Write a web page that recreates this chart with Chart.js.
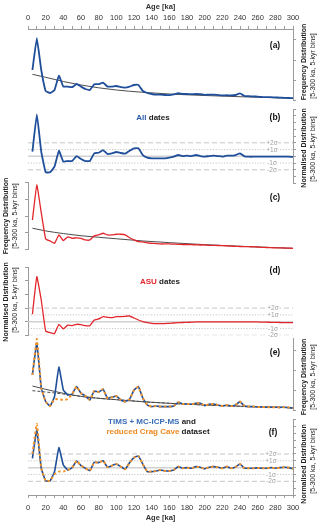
<!DOCTYPE html>
<html lang="en">
<head>
<meta charset="UTF-8">
<title>Age distribution of dates</title>
<script src="https://cdn.jsdelivr.net/npm/chart.js"></script>
<style>
  body { margin: 0; background: #fff; font-family: 'Liberation Sans', Arial, sans-serif; }
  #fig { position: relative; width: 320px; height: 527px; overflow: hidden; background: #fff; }
  #fig canvas { position: absolute; left: 0; }
  .lbl { position: absolute; transform: translate(-50%, -50%); white-space: nowrap; line-height: 1; }
  .rot { transform: translate(-50%, -50%) rotate(-90deg); font-size: 7px; color: #222; }
  .rot.b { font-weight: bold; }
  .pl { font-size: 8.5px; font-weight: bold; color: #111; }
  .sg { font-size: 6.5px; color: #a0a0a0; background: #fff; padding: 0 1px; }
  .ttl { font-size: 8px; font-weight: bold; color: #222; }
</style>
</head>
<body>
<div id="fig">
  <canvas id="pa" width="320" height="102" style="top:0px"></canvas>
  <canvas id="pb" width="320" height="81" style="top:105px"></canvas>
  <canvas id="pc" width="320" height="75" style="top:178px"></canvas>
  <canvas id="pd" width="320" height="76" style="top:262px"></canvas>
  <canvas id="pe" width="320" height="79" style="top:334px"></canvas>
  <canvas id="pf" width="320" height="112" style="top:415px"></canvas>

  <!-- panel letters -->
  <div class="lbl pl" style="left:275px;top:45px">(a)</div>
  <div class="lbl pl" style="left:275px;top:117px">(b)</div>
  <div class="lbl pl" style="left:275px;top:197px">(c)</div>
  <div class="lbl pl" style="left:275px;top:270px">(d)</div>
  <div class="lbl pl" style="left:275px;top:352px">(e)</div>
  <div class="lbl pl" style="left:273px;top:432px">(f)</div>

  <!-- panel titles -->
  <div class="lbl ttl" style="left:153px;top:118px"><span style="color:#2b5aa8">All</span> dates</div>
  <div class="lbl ttl" style="left:160px;top:282px"><span style="color:#e0262b">ASU</span> dates</div>
  <div class="lbl ttl" style="left:152px;top:422px"><span style="color:#3a6db5">TIMS + MC-ICP-MS</span> and</div>
  <div class="lbl ttl" style="left:158px;top:432px"><span style="color:#f08a24">reduced Crag Cave</span> dataset</div>

  <!-- sigma labels -->
  <div class="lbl sg" style="left:272px;top:142.8px">+2σ</div>
  <div class="lbl sg" style="left:272px;top:149.5px">+1σ</div>
  <div class="lbl sg" style="left:272px;top:163px">-1σ</div>
  <div class="lbl sg" style="left:272px;top:169.8px">-2σ</div>
  <div class="lbl sg" style="left:273px;top:308.1px">+2σ</div>
  <div class="lbl sg" style="left:273px;top:314.9px">+1σ</div>
  <div class="lbl sg" style="left:273px;top:328.5px">-1σ</div>
  <div class="lbl sg" style="left:273px;top:335.3px">-2σ</div>
  <div class="lbl sg" style="left:271px;top:454px">+2σ</div>
  <div class="lbl sg" style="left:271px;top:460.8px">+1σ</div>
  <div class="lbl sg" style="left:271px;top:474.5px">-1σ</div>
  <div class="lbl sg" style="left:271px;top:481.4px">-2σ</div>

  <!-- y axis titles -->
  <div class="lbl rot b" style="left:303px;top:62px">Frequency Distribution</div>
  <div class="lbl rot" style="left:312px;top:66px">[5-300 ka, 5-kyr bins]</div>
  <div class="lbl rot b" style="left:303px;top:148px">Normalised Distribution</div>
  <div class="lbl rot" style="left:312px;top:149px">[5-300 ka, 5-kyr bins]</div>
  <div class="lbl rot b" style="left:5px;top:216px">Frequency Distribution</div>
  <div class="lbl rot" style="left:13.5px;top:216px">[5-300 ka, 5-kyr bins]</div>
  <div class="lbl rot b" style="left:5px;top:302px">Normalised Distribution</div>
  <div class="lbl rot" style="left:13.5px;top:300px">[5-300 ka, 5-kyr bins]</div>
  <div class="lbl rot b" style="left:303px;top:377px">Frequency Distribution</div>
  <div class="lbl rot" style="left:312px;top:377px">[5-300 ka, 5-kyr bins]</div>
  <div class="lbl rot b" style="left:303px;top:464px">Normalised Distribution</div>
  <div class="lbl rot" style="left:312px;top:461px">[5-300 ka, 5-kyr bins]</div>
</div>

<script>
// bin centres (ka)
const ages = [5, 10, 15, 20, 25, 30, 35, 40, 45, 50, 55, 60, 65, 70, 75, 80, 85, 90, 95, 100,
              105, 110, 115, 120, 125, 130, 135, 140, 145, 150, 155, 160, 165, 170, 175, 180, 185, 190, 195, 200,
              205, 210, 215, 220, 225, 230, 235, 240, 245, 250, 255, 260, 265, 270, 275, 280, 285, 290, 295, 300];
const ageTicks = [0, 10, 20, 30, 40, 50, 60, 70, 80, 90, 100, 110, 120, 130, 140, 150, 160, 170, 180, 190, 200,
                  210, 220, 230, 240, 250, 260, 270, 280, 290, 300];
const ageRange = [0, 300];

// (a) all dates, frequency
const freqAll = [1.50, 3.09, 1.50, 0.45, 0.35, 0.50, 1.22, 0.67, 0.67, 0.64, 0.80, 0.67, 0.55, 0.50, 0.79, 0.79, 0.87, 0.67, 0.67, 0.70,
                 0.64, 0.62, 0.67, 0.75, 0.75, 0.45, 0.35, 0.30, 0.27, 0.27, 0.25, 0.24, 0.28, 0.34, 0.30, 0.30, 0.29, 0.30, 0.29, 0.26,
                 0.27, 0.27, 0.25, 0.23, 0.24, 0.23, 0.25, 0.33, 0.20, 0.19, 0.18, 0.17, 0.15, 0.14, 0.14, 0.13, 0.12, 0.11, 0.10, 0.09];
// (b) all dates, normalised (sigma units)
const normAll = [0.68, 6.22, 0.68, -2.37, -2.37, -1.54, 0.83, -0.80, -0.70, -0.70, 0.04, -0.40, -0.70, -0.70, 0.44, 0.53, 0.93, 0.34, 0.44, 0.64,
                 0.49, 0.39, 0.83, 1.19, 1.19, 0.19, -0.21, -0.30, -0.30, -0.30, -0.30, -0.21, -0.06, 0.19, 0.04, 0.09, 0.04, 0.19, 0.04, -0.06,
                 0.04, 0.09, 0.04, -0.06, 0.09, 0.09, 0.19, 0.44, 0.00, -0.06, -0.06, -0.04, -0.06, -0.06, -0.04, -0.06, -0.06, -0.04, -0.06, -0.10];
// (c) ASU dates, frequency
const freqAsu = [1.76, 3.85, 2.20, 0.63, 0.51, 0.37, 0.87, 0.53, 0.76, 0.67, 0.70, 0.67, 0.57, 0.57, 0.81, 0.87, 0.97, 0.87, 0.87, 0.91,
                 0.91, 0.87, 0.70, 0.57, 0.47, 0.45, 0.39, 0.37, 0.35, 0.33, 0.33, 0.33, 0.32, 0.31, 0.30, 0.30, 0.29, 0.28, 0.27, 0.27,
                 0.25, 0.25, 0.24, 0.23, 0.22, 0.20, 0.19, 0.18, 0.17, 0.17, 0.16, 0.15, 0.13, 0.12, 0.11, 0.10, 0.10, 0.09, 0.08, 0.07];
// (d) ASU dates, normalised
const normAsu = [1.09, 6.62, 3.19, -1.37, -1.62, -1.76, -0.38, -1.07, -0.49, -0.59, -0.38, -0.44, -0.59, -0.59, 0.25, 0.40, 0.74, 0.65, 0.59, 0.74,
                 0.74, 0.79, 0.84, 0.54, 0.25, 0.00, -0.15, -0.24, -0.29, -0.29, -0.28, -0.24, -0.19, -0.15, -0.12, -0.09, -0.07, -0.04, -0.03, -0.03,
                 -0.03, -0.03, -0.03, -0.03, -0.04, -0.04, -0.04, -0.04, -0.04, -0.04, -0.04, -0.04, -0.06, -0.07, -0.09, -0.10, -0.12, -0.13, -0.14, -0.15];
// (e) TIMS + MC-ICP-MS (blue) and reduced Crag Cave (orange), frequency
const freqTims = [1.75, 3.34, 1.10, 0.42, 0.20, 0.67, 2.14, 1.00, 0.75, 0.80, 1.17, 0.84, 0.70, 0.50, 0.95, 0.90, 1.04, 0.59, 0.64, 0.70,
                  0.50, 0.42, 0.54, 1.00, 1.17, 0.59, 0.25, 0.17, 0.20, 0.17, 0.17, 0.17, 0.20, 0.39, 0.30, 0.30, 0.29, 0.34, 0.34, 0.22,
                  0.29, 0.30, 0.25, 0.20, 0.25, 0.20, 0.25, 0.42, 0.20, 0.17, 0.17, 0.15, 0.15, 0.14, 0.14, 0.14, 0.13, 0.14, 0.12, 0.09];
const freqCrag = [1.75, 3.55, 1.10, 0.42, 0.20, 0.54, 0.54, 0.50, 0.55, 0.80, 1.17, 0.84, 0.70, 0.50, 0.95, 0.90, 1.04, 0.59, 0.64, 0.70,
                  0.50, 0.42, 0.54, 1.00, 1.17, 0.59, 0.25, 0.17, 0.20, 0.17, 0.17, 0.17, 0.20, 0.39, 0.30, 0.30, 0.29, 0.34, 0.34, 0.22,
                  0.29, 0.30, 0.25, 0.20, 0.25, 0.20, 0.25, 0.42, 0.20, 0.17, 0.17, 0.15, 0.15, 0.14, 0.14, 0.14, 0.13, 0.14, 0.12, 0.09];
// (f) same datasets, normalised
const normTims = [1.37, 5.50, -0.09, -1.94, -1.94, -0.58, 2.92, 0.39, -0.34, 0.00, 0.98, 0.29, -0.09, -0.44, 0.79, 0.73, 1.02, 0.06, 0.29, 0.54,
                  0.15, -0.23, 0.73, 1.46, 1.71, 0.50, -0.58, -0.58, -0.48, -0.34, -0.48, -0.48, -0.34, 0.15, -0.09, 0.00, -0.09, 0.15, 0.06, -0.19,
                  0.06, 0.15, 0.06, -0.09, 0.15, -0.09, 0.10, 0.54, -0.09, -0.09, -0.09, -0.04, -0.09, -0.09, 0.00, -0.09, 0.00, 0.06, 0.00, -0.15];
const normCrag = [2.00, 6.38, -0.09, -1.94, -1.94, -0.96, -0.58, -0.58, -0.34, 0.00, 0.98, 0.29, -0.09, -0.44, 0.79, 0.73, 1.02, 0.06, 0.29, 0.54,
                  0.15, -0.23, 0.73, 1.46, 1.71, 0.50, -0.58, -0.58, -0.48, -0.34, -0.48, -0.48, -0.34, 0.15, -0.09, 0.00, -0.09, 0.15, 0.06, -0.19,
                  0.06, 0.15, 0.06, -0.09, 0.15, -0.09, 0.10, 0.54, -0.09, -0.09, -0.09, -0.04, -0.09, -0.09, 0.00, -0.09, 0.00, 0.06, 0.00, -0.15];

// fitted trend curves, read at a few ages
const trendAges = [5, 20, 40, 60, 80, 100, 130, 160, 200, 250, 300];
const trendAll  = [1.285, 1.135, 0.925, 0.75, 0.61, 0.50, 0.385, 0.30, 0.225, 0.15, 0.085];
const trendAsu  = [1.27, 1.11, 0.95, 0.82, 0.73, 0.64, 0.51, 0.41, 0.29, 0.17, 0.07];
const trendTims = [1.20, 1.035, 0.835, 0.685, 0.585, 0.515, 0.415, 0.335, 0.25, 0.175, 0.115];
const trendCrag = [0.965, 0.90, 0.80, 0.68, 0.585, 0.515, 0.415, 0.335, 0.25, 0.175, 0.115];

const sigmaLevels = [2, 1, 0, -1, -2];

const font = "'Liberation Sans', Arial, sans-serif";
const axisGrey = '#9b9b9b';
const blue = '#1f4e9a';
const red = '#e3262b';
const orange = '#f0932b';

Chart.defaults.font.family = font;

function pts(xs, ys) {
    return xs.map((x, i) => ({ x: x, y: ys[i] }));
}

function dataLine(values, color, width, dash) {
    return {
        data: pts(ages, values), borderColor: color, borderWidth: width, borderDash: dash || [],
        pointRadius: 0, tension: 0.1, clip: false, fill: false
    };
}

function trendLine(values, dash) {
    return {
        data: pts(trendAges, values), borderColor: '#4d4d4d', borderWidth: 1, borderDash: dash || [],
        pointRadius: 0, cubicInterpolationMode: 'monotone', fill: false
    };
}

// +-1 and +-2 sigma guides plus the zero line
function sigmaLines() {
    return sigmaLevels.map(lv => ({
        data: pts(ageRange, [lv, lv]),
        borderColor: lv === 0 ? '#d2d2d2' : '#b8b8b8',
        borderWidth: lv === 0 ? 1.5 : 0.8,
        borderDash: Math.abs(lv) === 2 ? [5, 3] : (lv === 0 ? [] : [1.2, 1.6]),
        pointRadius: 0, fill: false
    }));
}

function yAxis(side, min, max, tickVals) {
    return {
        type: 'linear', position: side, min: min, max: max,
        afterFit: s => { s.width = side === 'left' ? 28 : 27; },
        afterBuildTicks: s => { s.ticks = tickVals.map(v => ({ value: v })); },
        ticks: { display: false },
        grid: { drawOnChartArea: false, drawTicks: true, tickLength: 3, color: axisGrey },
        border: { display: true, color: axisGrey, width: 1 }
    };
}

function xHidden() {
    return { type: 'linear', min: ageRange[0], max: ageRange[1], display: false };
}

function xAxis(side, height) {
    return {
        type: 'linear', position: side, min: ageRange[0], max: ageRange[1],
        afterFit: s => { s.height = height; },
        afterBuildTicks: s => { s.ticks = ageTicks.map(v => ({ value: v })); },
        ticks: {
            autoSkip: false, maxRotation: 0, padding: side === 'top' ? 4 : 5, color: '#333',
            font: { size: 7.5, family: font },
            callback: v => (v % 20 === 0 ? v : '')
        },
        grid: { drawOnChartArea: false, tickLength: 3, color: axisGrey },
        border: { display: true, color: axisGrey },
        title: {
            display: true, text: 'Age [ka]', color: '#333',
            font: { size: 7.5, weight: 'bold', family: font },
            padding: side === 'top' ? { top: 2, bottom: 0 } : { top: 0, bottom: 5 }
        }
    };
}

function makeChart(id, pad, x, y, datasets) {
    return new Chart(document.getElementById(id), {
        type: 'line',
        data: { datasets: datasets },
        options: {
            responsive: false,
            animation: false,
            layout: { padding: pad },
            scales: { x: x, y: y },
            plugins: { legend: { display: false }, tooltip: { enabled: false } }
        }
    });
}

const sigmaTicks = [-4, -3, -2, -1, 0, 1, 2, 3, 4, 5, 6, 7];

makeChart('pa', { left: 28, right: 0, top: 0, bottom: 2 }, xAxis('top', 29), yAxis('right', 0, 3.55, [0, 1, 2, 3]),
    [dataLine(freqAll, blue, 1.8), trendLine(trendAll)]);

makeChart('pb', { left: 28, right: 0, top: 4.05, bottom: 2.7 }, xHidden(), yAxis('right', -4, 7, sigmaTicks),
    [dataLine(normAll, blue, 1.8)].concat(sigmaLines()));

makeChart('pc', { left: 0, right: 27, top: 4.5, bottom: 3.5 }, xHidden(), yAxis('left', 0, 4, [0, 1, 2, 3, 4]),
    [dataLine(freqAsu, red, 1.3), trendLine(trendAsu)]);

makeChart('pd', { left: 0, right: 27, top: 5.3, bottom: 2.7 }, xHidden(), yAxis('left', -2, 8, [-2, 0, 2, 4, 6, 8]),
    [dataLine(normAsu, red, 1.3)].concat(sigmaLines()));

makeChart('pe', { left: 28, right: 0, top: 4, bottom: 3 }, xHidden(), yAxis('right', 0, 3.6, [0, 1, 2, 3]),
    [dataLine(freqCrag, orange, 2, [2.5, 2.5]), dataLine(freqTims, blue, 1.6), trendLine(trendTims), trendLine(trendCrag, [3, 2])]);

makeChart('pf', { left: 28, right: 0, top: 4.75, bottom: 0 }, xAxis('bottom', 32), yAxis('right', -4, 7, sigmaTicks),
    [dataLine(normCrag, orange, 2, [2.5, 2.5]), dataLine(normTims, blue, 1.6)].concat(sigmaLines()));
</script>
</body>
</html>
